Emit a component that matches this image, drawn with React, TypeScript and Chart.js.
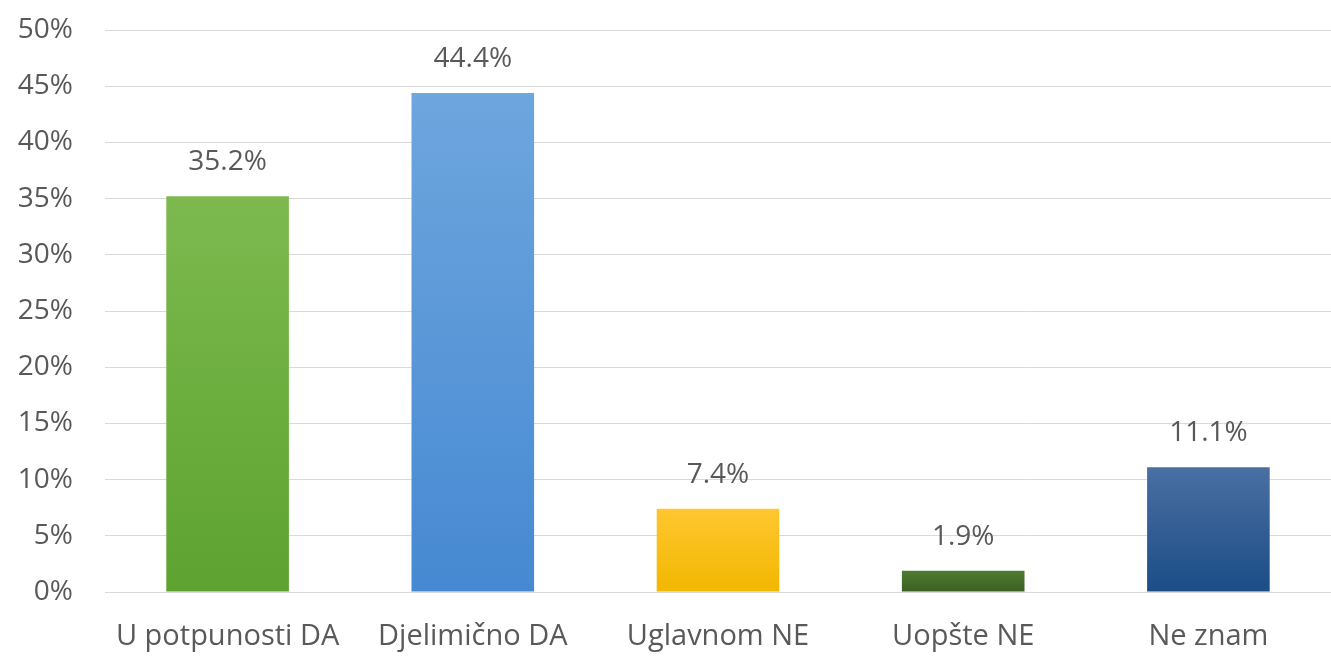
import React, { useEffect, useRef } from "react";
import { Chart, registerables } from "chart.js";

Chart.register(...registerables);

const categories = ["U potpunosti DA", "Djelimično DA", "Uglavnom NE", "Uopšte NE", "Ne znam"];
const values = [35.2, 44.4, 7.4, 1.9, 11.1];
const yTicks = [0, 5, 10, 15, 20, 25, 30, 35, 40, 45, 50];
const gradientTops = ["#7db94f", "#6ea6de", "#ffc730", "#4f7c31", "#4a6fa3"];
const gradientBottoms = ["#5da330", "#4689d2", "#f2b700", "#3b5f22", "#1b4d86"];

const FONT = "'Open Sans', sans-serif";
const TEXT = "#595959";

const labelPlugin = {
  id: "barLabels",
  afterDatasetsDraw(chart: any) {
    const ctx = chart.ctx;
    const meta = chart.getDatasetMeta(0);
    ctx.save();
    ctx.font = `28px ${FONT}`;
    ctx.fillStyle = TEXT;
    ctx.textAlign = "center";
    ctx.textBaseline = "middle";
    meta.data.forEach((bar: any, i: number) => {
      ctx.fillText(values[i].toFixed(1) + "%", bar.x, bar.y - 34);
    });
    ctx.restore();
  },
};

export default function App() {
  const ref = useRef<HTMLCanvasElement>(null);
  useEffect(() => {
    if (!ref.current) return;
    const chart = new Chart(ref.current, {
      type: "bar",
      data: {
        labels: categories,
        datasets: [
          {
            data: values,
            categoryPercentage: 1,
            barPercentage: 0.5,
            backgroundColor: (c: any) => {
              const ch = c.chart;
              const area = ch.chartArea;
              const i = c.dataIndex;
              if (!area || i === undefined || !ch.scales.y) return gradientBottoms[i ?? 0];
              const top = ch.scales.y.getPixelForValue(values[i]);
              const bottom = ch.scales.y.getPixelForValue(0);
              const g = ch.ctx.createLinearGradient(0, top, 0, bottom);
              g.addColorStop(0, gradientTops[i]);
              g.addColorStop(1, gradientBottoms[i]);
              return g;
            },
          },
        ],
      },
      options: {
        animation: false,
        responsive: false,
        layout: { padding: { top: 30, left: 0, right: 0, bottom: 0 } },
        plugins: { legend: { display: false }, tooltip: { enabled: false } },
        scales: {
          x: {
            grid: { display: false },
            border: { display: false },
            ticks: { color: TEXT, font: { family: FONT, size: 29 }, padding: 19 },
            afterFit: (s: any) => {
              s.height = 65;
              s.paddingLeft = 0;
              s.paddingRight = 0;
            },
          },
          y: {
            min: 0,
            max: 50,
            afterBuildTicks: (s: any) => {
              s.ticks = yTicks.map((v) => ({ value: v }));
            },
            grid: { color: "#d9d9d9", lineWidth: 1, drawTicks: false },
            border: { display: false },
            ticks: {
              color: TEXT,
              font: { family: FONT, size: 28 },
              padding: 32,
              callback: (v: any) => v + "%",
            },
            afterFit: (s: any) => {
              s.width = 105;
              s.paddingTop = 0;
              s.paddingBottom = 0;
            },
          },
        },
      },
      plugins: [labelPlugin],
    });
    return () => chart.destroy();
  }, []);
  return (
    <div style={{ position: "absolute", left: 0, top: 0, width: 1331, height: 657, background: "#fff" }}>
      <canvas ref={ref} width={1331} height={657} style={{ display: "block" }} />
    </div>
  );
}
